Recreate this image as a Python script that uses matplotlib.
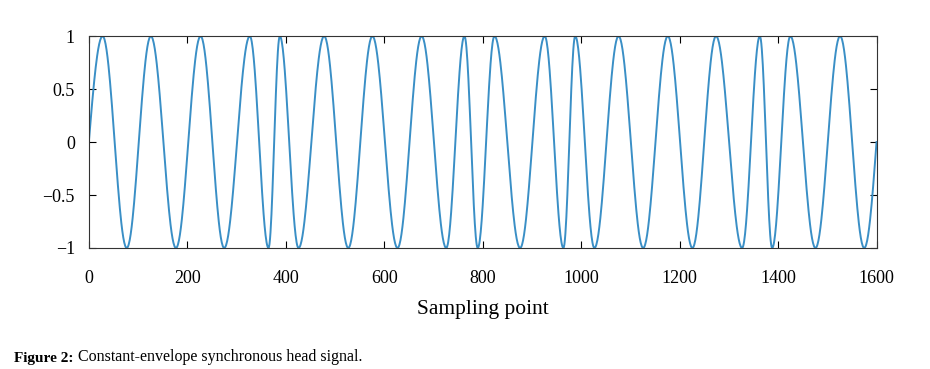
import numpy as np
import matplotlib
matplotlib.use('Agg')
import matplotlib.pyplot as plt

plt.rcParams['font.family'] = ['Liberation Serif', 'DejaVu Serif']

# sample positions of the maxima / minima (alternating, first is a max)
extrema = [28, 77, 126, 177, 227, 275, 327, 365, 388, 426, 478, 527,
           576, 627, 676, 726, 763, 790, 824, 876, 926, 964, 988, 1027,
           1076, 1126, 1176, 1226, 1274, 1327, 1363, 1388, 1425, 1476,
           1526, 1575]
n_samples = 1600

xticks = [0, 200, 400, 600, 800, 1000, 1200, 1400, 1600]
yticks = [-1, -0.5, 0, 0.5, 1]
ytick_labels = ['\u22121', '\u22120.5', '0', '0.5', '1']

# phase 0 at maxima, pi at minima; quarter cycle before the first / after the last
knots = [0] + extrema + [n_samples]
phases = [-np.pi / 2] + [k * np.pi for k in range(len(extrema))] + [(len(extrema) - 0.5) * np.pi]
t = np.arange(n_samples + 1)
sig = np.cos(np.interp(t, knots, phases))

fig = plt.figure(figsize=(9.3, 3.69), dpi=100)
ax = fig.add_axes([0.0955, 0.328, 0.847, 0.574])
ax.plot(t, sig, color='#3a8fc6', lw=1.4)

ax.set_xlim(0, 1600)
ax.set_ylim(-1, 1)
ax.set_xticks(xticks)
ax.set_xticklabels([str(v) for v in xticks])
ax.set_yticks(yticks)
ax.set_yticklabels(ytick_labels)
ax.tick_params(direction='in', top=True, right=True, length=5, width=0.8,
               labelsize=13)
ax.tick_params(axis='x', pad=16)
ax.tick_params(axis='y', pad=10)
for s in ax.spines.values():
    s.set_linewidth(0.8)
    s.set_color('#333333')
ax.set_xlabel('Sampling point', fontsize=15.5, labelpad=9)

# caption: bold label, then the text right after it
lab = fig.text(0.015, 0.019, 'Figure 2:', fontsize=11, fontweight='bold')
ax.annotate('Constant-envelope synchronous head signal.', xy=(1, 0), xycoords=lab,
            xytext=(3, 0), textcoords='offset points', fontsize=11.5,
            va='bottom', ha='left', annotation_clip=False)

fig.savefig('out.png', dpi=100)
